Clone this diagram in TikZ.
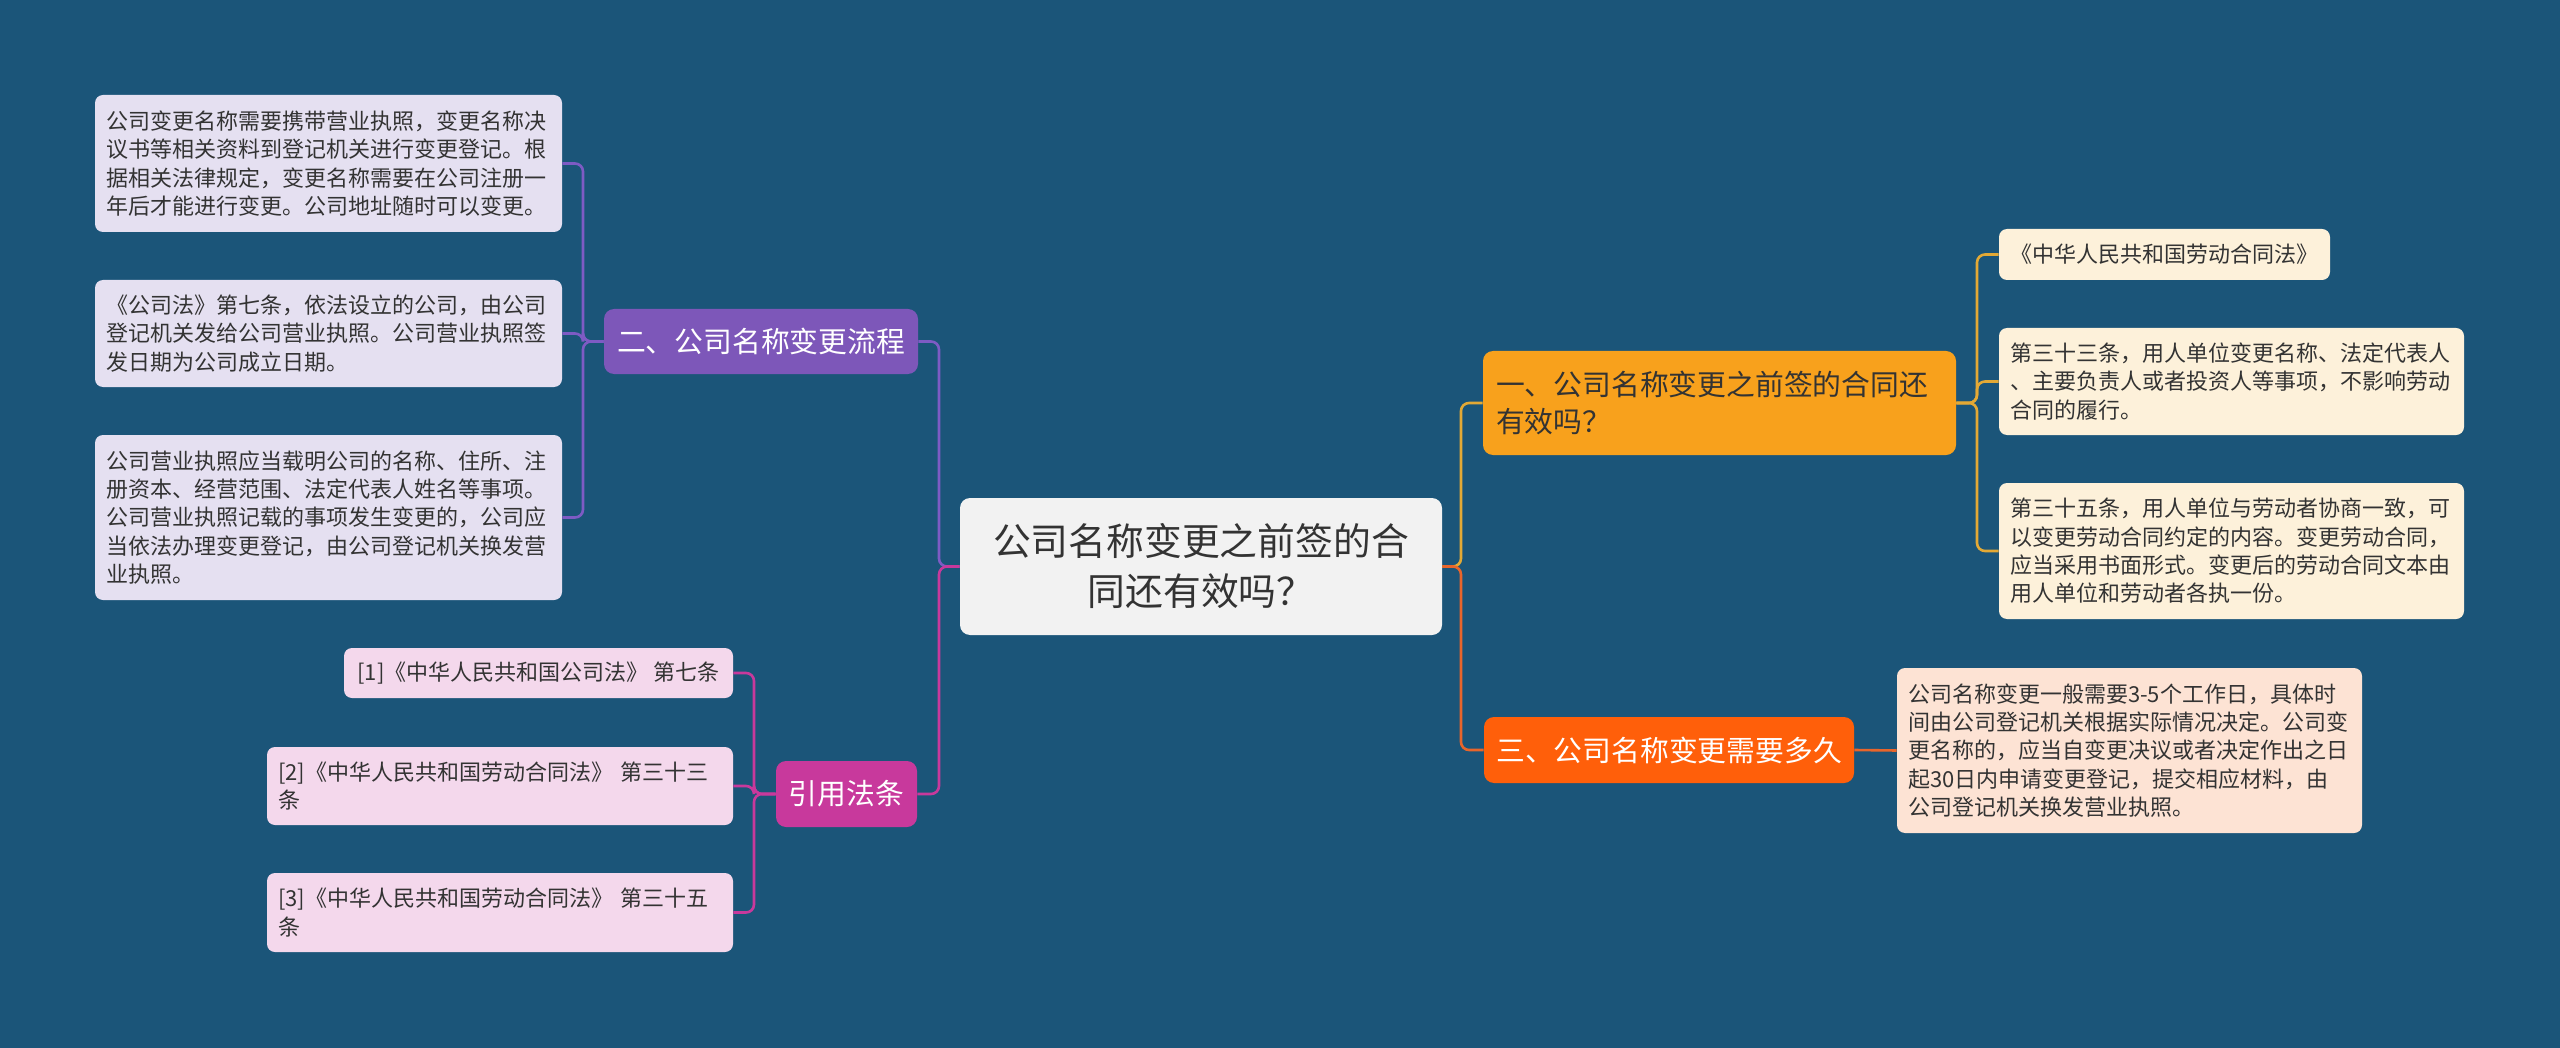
\documentclass[tikz,border=0pt]{standalone}
\usepackage{fontspec}
\setmainfont{Noto Sans CJK SC}
\usepackage{xcolor}
\usepackage{tikz}
\usetikzlibrary{positioning,calc}
\definecolor{NightBlue}{HTML}{1B5579}
\definecolor{CoreFill}{HTML}{F2F2F2}
\definecolor{InkGray}{HTML}{333333}
\definecolor{FlowPurple}{HTML}{7D57B9}
\definecolor{FlowLine}{HTML}{7E5BC4}
\definecolor{CiteMagenta}{HTML}{C8399C}
\definecolor{HasGold}{HTML}{F8A11C}
\definecolor{GoldLine}{HTML}{E3A935}
\definecolor{TimeOrange}{HTML}{FF5F0A}
\definecolor{OrangeLine}{HTML}{E8652B}
\definecolor{LavFill}{HTML}{E5E0F1}
\definecolor{CreamFill}{HTML}{FDF1DA}
\definecolor{PeachFill}{HTML}{FDE3D4}
\definecolor{PinkFill}{HTML}{F4D8EC}

\begin{document}
\begin{tikzpicture}[x=0.5pt,y=-0.5pt,
  topic/.style={rounded corners=5pt,inner sep=0pt,align=center,text=white,
    font=\fontsize{14.4}{18.3}\selectfont},
  leaf/.style={rounded corners=4pt,inner xsep=5.5pt,inner ysep=0pt,align=left,
    text=InkGray,font=\fontsize{11}{14.2}\selectfont},
  link/.style={line width=1.3pt,rounded corners=4pt}]
\fill[NightBlue] (0,0) rectangle (2560,1048);

% centre
\node[fill=CoreFill,rounded corners=5pt,text=InkGray,align=center,
      minimum width=241pt,minimum height=68.5pt,text width=225pt,inner sep=0pt,
      font=\fontsize{18.9}{25}\selectfont] (core) at (1201,566.5)
{公司名称变更之前签的合\\同还有效吗？};

% left: flow
\node[topic,fill=FlowPurple,minimum width=157pt,minimum height=32.5pt] (flow) at (761,341.5)
{二、公司名称变更流程};
\node[leaf,fill=LavFill,text width=222.5pt,minimum height=68.5pt] (flowa) at (328.5,163.5)
{公司变更名称需要携带营业执照，变更名称决\\议书等相关资料到登记机关进行变更登记。根\\据相关法律规定，变更名称需要在公司注册一\\年后才能进行变更。公司地址随时可以变更。};
\node[leaf,fill=LavFill,text width=222.5pt,minimum height=53.5pt] (flowb) at (328.5,333.5)
{《公司法》第七条，依法设立的公司，由公司\\登记机关发给公司营业执照。公司营业执照签\\发日期为公司成立日期。};
\node[leaf,fill=LavFill,text width=222.5pt,minimum height=82.5pt] (flowc) at (328.5,517.5)
{公司营业执照应当载明公司的名称、住所、注\\册资本、经营范围、法定代表人姓名等事项。\\公司营业执照记载的事项发生变更的，公司应\\当依法办理变更登记，由公司登记机关换发营\\业执照。};

% left: citations
\node[topic,fill=CiteMagenta,minimum width=70.5pt,minimum height=33pt] (cite) at (846.5,794)
{引用法条};
\node[leaf,fill=PinkFill,align=center,minimum width=194.5pt,minimum height=25pt] (citea) at (538.5,673)
{[1]《中华人民共和国公司法》 第七条};
\node[leaf,fill=PinkFill,text width=222pt,minimum height=39pt] (citeb) at (500,786)
{[2]《中华人民共和国劳动合同法》 第三十三\\条};
\node[leaf,fill=PinkFill,text width=222pt,minimum height=39.5pt] (citec) at (500,912.5)
{[3]《中华人民共和国劳动合同法》 第三十五\\条};

% right: still valid
\node[topic,fill=HasGold,text=InkGray,align=left,inner xsep=6.5pt,
      text width=223.5pt,minimum height=52pt] (valid) at (1719.5,403)
{一、公司名称变更之前签的合同还\\有效吗？};
\node[leaf,fill=CreamFill,align=center,minimum width=165.5pt,minimum height=25.5pt] (valida) at (2164.5,254.5)
{《中华人民共和国劳动合同法》};
\node[leaf,fill=CreamFill,text width=221.5pt,minimum height=53.5pt] (validb) at (2231.5,381.5)
{第三十三条，用人单位变更名称、法定代表人\\、主要负责人或者投资人等事项，不影响劳动\\合同的履行。};
\node[leaf,fill=CreamFill,text width=221.5pt,minimum height=68pt] (validc) at (2231.5,551)
{第三十五条，用人单位与劳动者协商一致，可\\以变更劳动合同约定的内容。变更劳动合同，\\应当采用书面形式。变更后的劳动合同文本由\\用人单位和劳动者各执一份。};

% right: duration
\node[topic,fill=TimeOrange,minimum width=185pt,minimum height=33pt] (span) at (1669,750)
{三、公司名称变更需要多久};
\node[leaf,fill=PeachFill,text width=221.5pt,minimum height=82.5pt] (spana) at (2129.5,750.5)
{公司名称变更一般需要3-5个工作日，具体时\\间由公司登记机关根据实际情况决定。公司变\\更名称的，应当自变更决议或者决定作出之日\\起30日内申请变更登记，提交相应材料，由\\公司登记机关换发营业执照。};

% junctions
\coordinate (lj) at (939,566.5);
\coordinate (rj) at (1461,566.5);
\coordinate (fj) at (583,341.5);
\coordinate (cj) at (754,794);
\coordinate (vj) at (1977,403);

% links
\draw[link,FlowLine] (core.west) -- (lj) |- (flow.east);
\draw[link,CiteMagenta] (core.west) -- (lj) |- (cite.east);
\draw[link,GoldLine] (core.east) -- (rj) |- (valid.west);
\draw[link,OrangeLine] (core.east) -- (rj) |- (span.west);
\foreach \n in {flowa,flowb,flowc}
  \draw[link,FlowLine] (flow.west) -- (fj) |- (\n.east);
\foreach \n in {citea,citeb,citec}
  \draw[link,CiteMagenta] (cite.west) -- (cj) |- (\n.east);
\foreach \n in {valida,validb,validc}
  \draw[link,GoldLine] (valid.east) -- (vj) |- (\n.west);
\draw[link,OrangeLine] (span.east) -- (spana.west);
\end{tikzpicture}
\end{document}
